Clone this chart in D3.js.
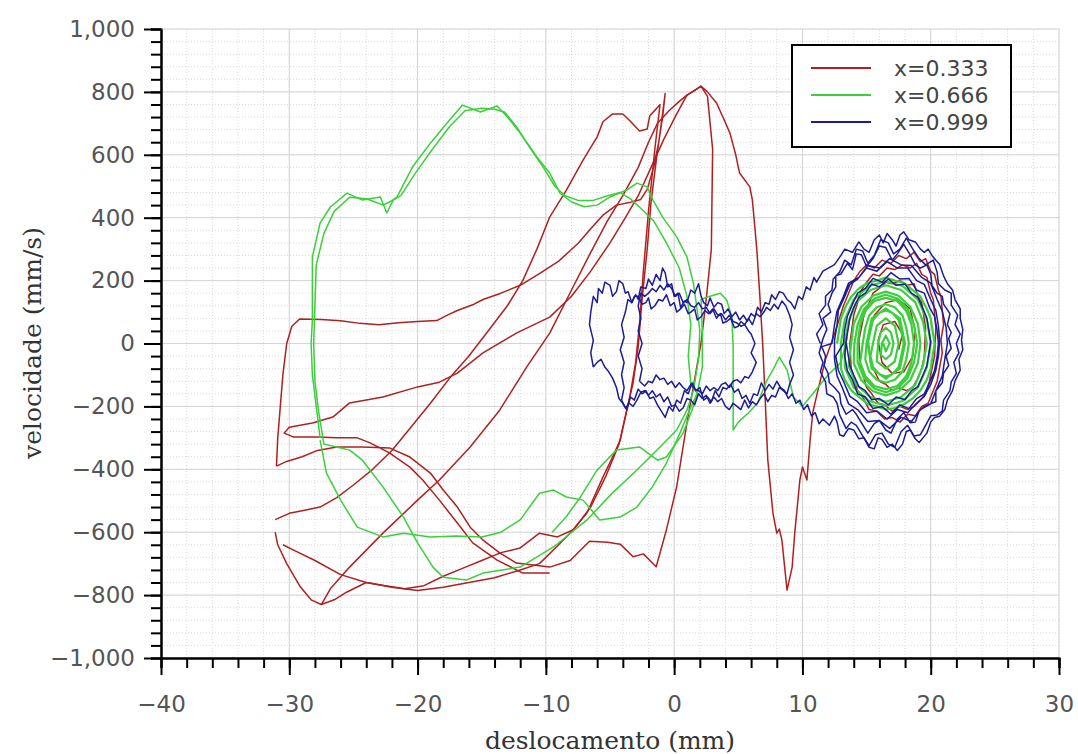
<!DOCTYPE html>
<html>
<head>
<meta charset="utf-8">
<script src="https://d3js.org/d3.v7.min.js"></script>
<style>
  body { margin: 0; background: #fff; }
</style>
</head>
<body>
<div id="chart"></div>
<script>
// axis ticks and legend
var xTicks = [-40, -30, -20, -10, 0, 10, 20, 30];
var yTicks = [-1000, -800, -600, -400, -200, 0, 200, 400, 600, 800, 1000];
var seriesNames = ["x=0.333", "x=0.666", "x=0.999"];
var seriesColors = ["#b02020", "#3ccf3c", "#1c1c96"];

// ---- x=0.333 (red), [deslocamento mm, velocidade mm/s] ----
var redA = [[-31.0,-390],[-30.9,-300],[-30.7,-200],[-30.5,-100],[-30.2,0],[-29.8,55],[-29.2,78],[-27.5,76],[-26,72],[-24.5,64],[-23,60],[-21.5,66],[-20,70],[-18.5,73],[-17.8,88],[-16.9,105],[-15.6,125],[-14.9,140],[-13.5,160],[-12,185],[-10.5,222],[-9,262],[-7.5,318],[-6.5,365],[-5.5,410],[-4.5,440],[-3.5,448],[-2.6,458],[-2.1,490],[-1.6,560],[-1.2,640],[-0.9,720],[-0.7,795],[-1.0,700],[-1.4,580],[-1.8,450],[-2.1,300],[-2.5,140],[-2.8,-11],[-3.2,-126],[-3.7,-212],[-4.2,-307],[-4.8,-361],[-5.55,-425],[-6.8,-539],[-7.9,-593],[-9.1,-615],[-10.5,-603],[-12,-650],[-13.5,-665],[-15,-690],[-16.5,-715],[-18,-740],[-19.5,-770],[-21,-780],[-22.5,-770],[-24,-760],[-25.5,-790],[-26.5,-815],[-27.5,-830],[-28.3,-815],[-29.2,-770],[-30.2,-700],[-30.9,-640],[-31.1,-600]];
var redB = [[-9.7,-730],[-11.8,-730],[-13.8,-689],[-15.7,-634],[-16.9,-571],[-18.3,-498],[-19.6,-434],[-20.6,-393],[-22.2,-348],[-23.7,-316],[-24.7,-300],[-26.3,-300],[-27.8,-297],[-29.7,-297],[-30.4,-285],[-30.0,-266],[-28.2,-253],[-26.6,-234],[-25.3,-189],[-22.7,-170],[-20,-138],[-18.3,-123],[-16.9,-94],[-14.9,-30],[-12.3,33],[-9.7,84],[-8,150],[-6.5,230],[-5,320],[-3.8,400],[-2.8,470],[-1.8,560],[-0.8,650],[0.2,730],[1.0,790],[1.6,805],[2.1,818],[2.6,786],[3.0,618],[2.9,300],[2.5,140],[2.1,3],[0.95,-264],[0.2,-455],[-0.6,-592],[-1.4,-710],[-2.4,-669],[-3.2,-678],[-4.2,-638],[-5.2,-632],[-6.6,-629],[-8.1,-690],[-9.7,-711],[-12.3,-698],[-13.6,-666],[-14.9,-625],[-15.9,-584],[-16.9,-520],[-18,-466],[-19,-412],[-20.6,-361],[-22.2,-332],[-24.3,-329],[-26.3,-329],[-27.8,-340],[-29.0,-360],[-30.2,-375],[-31.0,-390]];
var redC = [[-27.5,-830],[-26.8,-780],[-25.3,-711],[-22.7,-603],[-20,-498],[-18.3,-434],[-15.9,-329],[-13.6,-212],[-11.5,-75],[-9.7,33],[-8,170],[-6.5,290],[-5.2,390],[-4,470],[-2.8,560],[-2,640],[-1.3,700],[-0.4,740],[0.4,770],[1.0,790],[1.6,805],[2.1,818],[2.6,800],[3.3,765],[3.8,720],[4.35,669],[4.8,600],[5.1,542],[5.9,498],[6.1,456],[6.45,297],[6.7,138],[6.9,0],[7.1,-180],[7.3,-370],[7.7,-539],[8.0,-603],[8.2,-590],[8.4,-625],[8.8,-784],[9.2,-711],[9.4,-603],[9.8,-434],[10.0,-393],[10.35,-434],[10.6,-307],[10.8,-221],[11.2,-150],[11.8,-50],[12.5,30]];
var redD = [[-31.1,-560],[-30.0,-540],[-28.8,-530],[-27.6,-520],[-26.3,-490],[-25,-450],[-23.5,-400],[-22,-340],[-20.6,-270],[-19,-190],[-17.5,-110],[-16,-40],[-14.5,40],[-13,120],[-11.8,200],[-10.7,300],[-9.7,402],[-8.4,488],[-7.1,583],[-6.0,657],[-5.55,705],[-4.8,730],[-4.0,730],[-3.45,708],[-2.7,676],[-2.1,682],[-1.9,724],[-1.4,746],[-1.1,760],[-1.5,620],[-2.0,420],[-2.4,230],[-2.7,60],[-3.0,-60],[-3.5,-180],[-4.3,-320],[-5.3,-420],[-6.5,-520],[-7.8,-590],[-9,-640],[-10.5,-700],[-12,-720],[-14,-745],[-16,-760],[-18,-775],[-20,-785],[-22,-775],[-24,-760],[-26,-735],[-28,-690],[-29.5,-660],[-30.5,-640]];
var redCluster = [[12.5,30],[13.2,120],[13.6,160],[14.0,200],[14.5,230],[15.0,250],[15.6,240],[16.2,265],[16.9,255],[17.5,280],[18.1,270],[18.7,290],[19.2,260],[19.6,270],[20.0,230],[20.3,220],[20.6,170],[20.8,150],[21.0,60],[20.8,10],[20.9,-30],[20.5,-120],[20.2,-150],[19.8,-190],[19.3,-200],[18.8,-230],[18.2,-225],[17.6,-250],[17.0,-235],[16.4,-240],[15.8,-215],[15.2,-210],[14.7,-170],[14.3,-150],[13.8,-80],[13.7,0],[14.0,90],[14.6,170],[15.0,195],[15.5,220],[16.0,215],[16.6,240],[17.2,235],[17.8,250],[18.4,240],[18.9,255],[19.3,220],[19.7,210],[20.0,160],[20.2,140],[20.4,50],[20.3,-40],[20.1,-80],[19.9,-120],[19.6,-160],[19.2,-180],[18.7,-200],[18.2,-210],[17.6,-200],[17.0,-215],[16.4,-195],[15.9,-190],[15.4,-160],[15.0,-140],[14.5,-70],[14.4,10],[14.8,90],[15.5,160],[16.0,175],[16.5,195],[17.0,190],[17.6,200],[18.2,185],[18.7,190],[19.0,150],[19.3,130],[19.6,50],[19.5,-40],[19.3,-80],[19.0,-110],[18.6,-140],[18.1,-150],[17.5,-140],[17.0,-150],[16.5,-130],[16.0,-120],[15.3,-60],[15.1,20],[15.6,90],[16.5,130],[17.5,140],[18.4,110],[18.8,40],[18.6,-40],[17.9,-90],[17.0,-95],[16.2,-60],[15.9,10],[16.3,60],[17.2,70],[17.8,30],[17.5,-20]];

// ---- x=0.666 (green) ----
var greenA = [[-27.6,-300],[-27.9,-200],[-28.2,-100],[-28.3,0],[-28.2,75],[-28.2,180],[-28.2,275],[-27.6,383],[-26.8,434],[-25.5,478],[-24.3,456],[-22.9,466],[-22.4,415],[-21.9,456],[-21.6,466],[-20.4,561],[-19.0,637],[-17.7,701],[-16.5,758],[-15.1,736],[-13.8,755],[-13.0,720],[-12.0,669],[-10.7,593],[-9.7,542],[-8.9,478],[-8.0,450],[-7.0,435],[-6.0,440],[-5,466],[-3.7,488],[-2.9,510],[-2.1,498],[-1.65,456],[-0.9,402],[0.2,339],[1,275],[1.5,192],[1.8,106],[2,42],[1.9,-50],[1.5,-150],[1.0,-212],[0.2,-275],[-1.1,-329],[-2.9,-402],[-4.8,-475],[-6.8,-561],[-9.4,-647],[-12,-711],[-14.9,-730],[-16.2,-752],[-18,-743],[-18.8,-711],[-20,-634],[-21.1,-552],[-22.7,-456],[-24.3,-371],[-25.3,-339],[-26.3,-329],[-27.3,-320]];
var greenB = [[-27.3,-320],[-27.7,-220],[-28.0,-120],[-28.1,0],[-28.0,120],[-27.9,250],[-27.3,350],[-26.5,420],[-25.3,465],[-24.0,460],[-23.3,450],[-22.7,440],[-22.2,450],[-21.3,470],[-20.2,540],[-18.8,620],[-17.5,690],[-16.3,740],[-15.0,748],[-14.0,745],[-13.2,735],[-12.3,690],[-11.2,620],[-10.2,560],[-9.3,500],[-8.5,470],[-7.5,455],[-6.3,455],[-5.2,470],[-4.2,480],[-3.4,460],[-2.6,430],[-1.6,390],[-0.6,320],[0.4,240],[1.0,150],[1.3,60],[1.1,-40],[1.3,-130],[1.8,-158],[1.2,-212],[0.45,-285],[-0.6,-380],[-1.7,-456],[-2.9,-520],[-4.2,-552],[-5.8,-561],[-7.1,-498],[-8.4,-488],[-9.4,-466],[-10.5,-476],[-12,-561],[-13.5,-600],[-15,-615],[-17,-612],[-19,-615],[-21.1,-603],[-22.7,-615],[-24.7,-584],[-26,-498],[-27.1,-412],[-27.6,-307]];
var greenC = [[-9.5,-600],[-8.4,-550],[-7.3,-488],[-6,-402],[-4.5,-339],[-2.7,-329],[-1.3,-371],[-0.6,-361],[0.7,-285],[1.5,-200],[1.8,-158],[2.2,-75],[2.2,33],[2.1,140],[2.6,148],[3.6,160],[4.1,138],[4.5,84],[4.6,-11],[4.6,-150],[4.6,-275],[5.0,-250],[5.8,-220],[6.5,-190],[7.2,-120],[7.7,-84],[8.2,-43],[8.8,-84],[9.3,-170],[10,-200],[11,-150],[12,-100],[13,-60],[13.5,20]];
var greenCluster = [[12.7,0],[13.0,80],[13.4,120],[13.8,149],[14.4,175],[15.1,193],[15.8,200],[16.5,210],[17.2,200],[17.9,193],[18.6,170],[19.2,149],[19.7,110],[20.0,80],[20.3,0],[20.0,-80],[19.7,-115],[19.2,-149],[18.6,-175],[17.9,-193],[17.2,-205],[16.5,-210],[15.8,-200],[15.1,-193],[14.4,-170],[13.8,-149],[13.3,-115],[13.0,-80],[13.0,0],[13.3,76],[14.0,140],[15.2,183],[16.5,198],[17.8,183],[19.0,140],[19.7,76],[20.0,0],[19.7,-76],[19.0,-140],[17.8,-183],[16.5,-198],[15.2,-183],[14.0,-140],[13.3,-76],[13.3,0],[13.6,70],[14.2,131],[15.3,170],[16.5,185],[17.7,170],[18.8,131],[19.4,70],[19.7,0],[19.4,-70],[18.8,-131],[17.7,-170],[16.5,-185],[15.3,-170],[14.2,-131],[13.6,-70],[13.8,0],[14.0,63],[14.6,117],[15.5,152],[16.5,165],[17.5,152],[18.4,117],[19.0,63],[19.2,0],[19.0,-63],[18.4,-117],[17.5,-152],[16.5,-165],[15.5,-152],[14.6,-117],[14.0,-63],[14.05,0],[14.3,60],[14.8,110],[15.6,143],[16.5,155],[17.4,143],[18.2,110],[18.7,60],[18.95,0],[18.7,-60],[18.2,-110],[17.4,-143],[16.5,-155],[15.6,-143],[14.8,-110],[14.3,-60],[14.3,0],[14.5,60],[14.9,103],[15.6,135],[16.5,145],[17.4,135],[18.1,103],[18.5,60],[18.7,0],[18.5,-60],[18.1,-103],[17.4,-135],[16.5,-145],[15.6,-135],[14.9,-103],[14.5,-60],[14.7,0],[14.9,50],[15.2,89],[15.8,115],[16.5,125],[17.2,115],[17.8,89],[18.1,50],[18.3,0],[18.1,-50],[17.8,-89],[17.2,-115],[16.5,-125],[15.8,-115],[15.2,-89],[14.9,-50],[15.0,0],[15.4,80],[16.5,112],[17.6,80],[18.0,0],[17.6,-80],[16.5,-112],[15.4,-80],[15.1,0],[15.3,40],[15.5,75],[16.0,98],[16.5,105],[17.0,98],[17.5,75],[17.7,40],[17.9,0],[17.7,-40],[17.5,-75],[17.0,-98],[16.5,-105],[16.0,-98],[15.5,-75],[15.3,-40],[15.5,0],[15.8,57],[16.5,80],[17.2,57],[17.5,0],[17.2,-57],[16.5,-80],[15.8,-57],[15.9,0],[16.1,35],[16.5,50],[16.9,35],[17.1,0],[16.9,-35],[16.5,-50],[16.1,-35],[16.2,0],[16.5,25],[16.8,0],[16.5,-25],[16.3,0]];

// ---- x=0.999 (blue) ----
var blueOuter = [[-6.3,-75],[-6.5,-30],[-6.3,10],[-6.6,60],[-6.5,100],[-6.3,150],[-6.0,130],[-5.9,175],[-5.6,160],[-5.4,195],[-5.0,185],[-4.8,150],[-4.5,165],[-4.3,200],[-4.0,190],[-3.8,160],[-3.6,165],[-3.3,130],[-3.0,155],[-2.8,140],[-2.6,180],[-2.2,175],[-2.0,205],[-1.7,185],[-1.4,220],[-1.1,200],[-0.9,240],[-0.7,225],[-0.5,180],[-0.2,190],[0.0,150],[0.3,160],[0.5,115],[0.8,135],[1.0,130],[1.3,170],[1.6,160],[1.9,190],[2.1,150],[2.3,130],[2.6,120],[2.8,145],[3.1,115],[3.4,130],[3.7,125],[3.9,95],[4.2,110],[4.5,85],[4.8,100],[5.1,75],[5.4,90],[5.7,70],[6.0,95],[6.3,85],[6.5,115],[6.8,100],[7.1,130],[7.4,125],[7.6,155],[7.9,140],[8.2,165],[8.5,160],[8.8,140],[9.1,130],[9.4,110],[9.7,150],[10.0,140],[10.3,180],[10.6,170],[10.9,210],[11.1,195],[11.6,230],[12.5,251],[13.0,280],[13.3,300],[13.9,290],[14.4,323],[14.8,300],[15.2,290],[15.6,330],[16.0,345],[16.3,320],[16.6,350],[17.0,330],[17.3,310],[17.6,345],[17.9,355],[18.3,330],[18.8,323],[19.2,300],[19.5,290],[19.8,300],[20.1,280],[20.4,265],[20.7,251],[21.0,215],[21.3,190],[21.7,170],[21.9,139],[22.3,110],[22.3,80],[22.5,45],[22.4,10],[22.5,-20],[22.2,-50],[22.3,-85],[21.9,-119],[21.7,-150],[21.3,-180],[21.1,-210],[20.7,-231],[20.3,-235],[20.0,-250],[19.7,-285],[19.4,-300],[19.1,-315],[18.8,-303],[18.4,-275],[18.1,-280],[17.8,-320],[17.4,-340],[17.0,-320],[16.6,-330],[16.2,-305],[15.9,-300],[15.6,-335],[15.2,-330],[14.8,-300],[14.4,-303],[14.0,-275],[13.6,-270],[13.2,-295],[12.9,-290],[12.7,-250],[12.5,-231],[12.1,-260],[11.6,-240],[11.3,-255],[11.0,-220],[10.7,-230],[10.4,-195],[10.1,-210],[9.8,-180],[9.5,-190],[9.2,-160],[8.9,-175],[8.6,-150],[8.3,-140],[8.0,-120],[7.7,-145],[7.4,-130],[7.1,-150],[6.8,-125],[6.5,-165],[6.2,-160],[5.9,-190],[5.6,-165],[5.3,-175],[5.0,-145],[4.7,-155],[4.4,-130],[4.1,-145],[3.8,-140],[3.5,-170],[3.2,-150],[2.9,-185],[2.6,-170],[2.3,-180],[2.0,-140],[1.7,-150],[1.4,-125],[1.1,-160],[0.8,-150],[0.5,-190],[0.2,-180],[-0.1,-215],[-0.4,-200],[-0.7,-235],[-1.0,-215],[-1.3,-195],[-1.6,-170],[-1.9,-175],[-2.2,-150],[-2.5,-160],[-2.8,-145],[-3.1,-180],[-3.4,-170],[-3.7,-210],[-4.0,-190],[-4.3,-175],[-4.5,-140],[-4.8,-110],[-5.1,-90],[-5.4,-75],[-5.7,-50],[-6.0,-60],[-6.3,-75]];
var blueInner1 = [[-4.1,-180],[-3.9,-140],[-4.1,-100],[-3.9,-60],[-4.2,-20],[-3.9,20],[-4.1,60],[-3.8,100],[-3.6,140],[-3.3,130],[-3.1,150],[-2.8,150],[-2.5,125],[-2.2,130],[-2.0,145],[-1.8,110],[-1.5,120],[-1.2,140],[-0.9,135],[-0.6,155],[-0.3,120],[0.0,130],[0.2,100],[0.5,110],[0.8,125],[1.1,95],[1.3,100],[1.6,110],[1.8,75],[2.1,85],[2.4,105],[2.7,95],[3.0,110],[3.3,80],[3.6,95],[3.8,65],[4.1,70],[4.4,80],[4.7,50],[5.0,55],[5.2,70],[5.5,60],[5.8,80],[6.1,60],[6.4,95],[6.7,85],[7.0,100],[7.2,115],[7.5,105],[7.8,125],[8.1,110],[8.4,135],[8.7,120],[9.0,90],[9.2,60],[9.0,20],[9.3,-20],[9.0,-60],[9.3,-100],[9.0,-130],[8.8,-160],[8.5,-150],[8.2,-140],[7.9,-170],[7.6,-165],[7.3,-185],[7.0,-160],[6.7,-175],[6.4,-195],[6.1,-185],[5.8,-205],[5.5,-180],[5.2,-210],[4.9,-200],[4.6,-190],[4.3,-210],[4.0,-200],[3.7,-175],[3.4,-185],[3.1,-170],[2.8,-190],[2.5,-165],[2.2,-175],[1.9,-160],[1.6,-195],[1.3,-180],[1.0,-175],[0.7,-205],[0.4,-215],[0.1,-195],[-0.2,-200],[-0.5,-170],[-0.8,-185],[-1.1,-160],[-1.4,-170],[-1.7,-150],[-2.0,-165],[-2.3,-150],[-2.6,-155],[-2.9,-180],[-3.2,-200],[-3.5,-190],[-3.8,-205],[-4.1,-180]];
var blueInner2 = [[-2.7,-120],[-2.5,-80],[-2.8,-40],[-2.5,0],[-2.8,40],[-2.6,80],[-2.8,120],[-2.6,160],[-2.3,150],[-2.0,160],[-1.7,175],[-1.4,165],[-1.1,185],[-0.8,170],[-0.5,190],[-0.2,175],[0.1,150],[0.4,160],[0.7,130],[1.0,140],[1.3,120],[1.6,115],[1.9,130],[2.2,110],[2.5,115],[2.8,95],[3.1,110],[3.4,90],[3.7,95],[4.0,75],[4.3,90],[4.6,70],[4.9,65],[5.2,55],[5.5,60],[5.8,40],[6.0,30],[6.3,0],[6.0,-30],[6.4,-60],[6.1,-90],[5.8,-110],[5.5,-105],[5.2,-125],[4.9,-115],[4.6,-120],[4.3,-140],[4.0,-125],[3.7,-130],[3.4,-150],[3.1,-140],[2.8,-150],[2.5,-135],[2.2,-160],[1.9,-150],[1.6,-145],[1.3,-130],[1.0,-150],[0.7,-140],[0.4,-125],[0.1,-140],[-0.2,-120],[-0.5,-130],[-0.8,-110],[-1.1,-115],[-1.4,-100],[-1.7,-125],[-2.0,-120],[-2.3,-135],[-2.7,-120]];
var blueCluster = [[11.4,0],[11.1,30],[11.6,60],[11.3,95],[11.8,122],[11.8,150],[12.3,170],[12.4,205],[12.9,227],[13.3,265],[13.8,250],[14.2,300],[14.7,294],[15.1,255],[15.6,280],[16.1,330],[16.7,320],[17.1,285],[17.6,300],[18.1,335],[18.7,294],[19.1,270],[19.6,250],[20.2,265],[20.5,227],[20.6,190],[21.1,170],[21.6,160],[21.6,122],[22.1,90],[21.9,60],[22.3,30],[22.0,0],[22.2,-30],[21.8,-60],[22.0,-95],[21.6,-122],[21.5,-150],[21.0,-180],[20.9,-215],[20.5,-227],[20.0,-230],[19.6,-260],[19.2,-290],[18.7,-294],[18.2,-260],[17.7,-280],[17.2,-330],[16.7,-320],[16.2,-285],[15.7,-290],[15.2,-325],[14.7,-294],[14.2,-260],[13.8,-250],[13.4,-270],[12.9,-227],[12.7,-190],[12.4,-170],[11.9,-160],[11.8,-122],[11.4,-90],[11.6,-60],[11.3,-30],[11.6,15],[11.9,45],[11.6,80],[12.2,100],[12.0,125],[12.3,160],[12.6,180],[12.6,215],[13.0,221],[13.5,255],[13.9,235],[14.2,285],[14.6,282],[15.0,245],[15.5,270],[16.0,310],[16.5,305],[17.0,265],[17.4,285],[17.9,315],[18.4,282],[18.8,250],[19.2,240],[19.7,250],[20.0,221],[20.1,185],[20.5,160],[20.9,150],[21.0,125],[21.5,95],[21.3,60],[21.6,35],[21.4,15],[21.6,-15],[21.2,-40],[21.4,-70],[21.0,-95],[20.9,-125],[20.4,-150],[20.4,-185],[20.0,-191],[19.5,-200],[19.1,-215],[18.8,-250],[18.4,-252],[17.9,-220],[17.4,-240],[16.9,-285],[16.5,-275],[16.0,-245],[15.6,-255],[15.1,-285],[14.6,-252],[14.2,-225],[13.9,-210],[13.4,-225],[13.0,-191],[12.9,-160],[12.5,-140],[12.1,-125],[12.0,-95],[11.7,-70],[11.8,-40],[11.5,-10],[12.3,0],[12.5,60],[12.7,103],[13.2,150],[13.6,192],[14.4,210],[15.1,248],[16.0,240],[16.8,270],[17.7,250],[18.5,248],[19.3,210],[20.0,192],[20.5,140],[20.9,103],[21.2,50],[21.3,0],[21.1,-50],[20.9,-103],[20.4,-150],[20.0,-192],[19.2,-210],[18.5,-248],[17.7,-235],[16.8,-270],[16.0,-245],[15.1,-248],[14.3,-210],[13.6,-192],[13.1,-140],[12.7,-103],[12.5,-50],[12.5,10],[12.7,60],[12.8,105],[13.3,150],[13.7,188],[14.3,205],[15.0,240],[15.8,230],[16.6,260],[17.4,240],[18.2,240],[18.9,200],[19.5,188],[20.0,140],[20.4,105],[20.6,55],[20.7,10],[20.6,-40],[20.4,-85],[20.0,-130],[19.5,-168],[18.9,-190],[18.2,-220],[17.4,-210],[16.6,-240],[15.8,-215],[15.0,-220],[14.3,-185],[13.7,-168],[13.2,-120],[12.8,-85],[12.6,-40],[13.2,0],[13.3,45],[13.5,86],[13.9,125],[14.3,160],[14.9,175],[15.5,207],[16.2,195],[16.9,225],[17.6,205],[18.3,207],[18.9,170],[19.5,160],[19.9,115],[20.3,86],[20.5,40],[20.6,0],[20.5,-40],[20.3,-86],[19.9,-125],[19.5,-160],[18.9,-175],[18.3,-207],[17.6,-195],[16.9,-225],[16.2,-200],[15.5,-207],[14.9,-170],[14.3,-160],[13.9,-115],[13.5,-86],[13.3,-40],[13.4,5],[13.7,81],[14.0,115],[14.4,147],[14.9,160],[15.4,189],[16.0,180],[16.7,205],[17.3,185],[18.0,189],[18.5,160],[19.0,147],[19.4,110],[19.7,81],[20.0,5],[19.7,-71],[19.4,-100],[19.0,-137],[18.5,-150],[18.0,-179],[17.3,-170],[16.7,-195],[16.0,-175],[15.4,-179],[14.9,-150],[14.4,-137],[14.0,-100],[13.7,-71],[13.4,5]];

var series = [
  {name: seriesNames[0], color: seriesColors[0], paths: [redA, redB, redC, redD, redCluster]},
  {name: seriesNames[1], color: seriesColors[1], paths: [greenA, greenB, greenC, greenCluster]},
  {name: seriesNames[2], color: seriesColors[2], paths: [blueOuter, blueInner1, blueInner2, blueCluster]}
];

var width = 1078, height = 754;
var svg = d3.select("#chart").append("svg")
  .attr("width", width)
  .attr("height", height);

var x = d3.scaleLinear().domain([-40, 30]).range([161, 1059]);
var y = d3.scaleLinear().domain([-1000, 1000]).range([658, 29]);

var xMinor = d3.range(-40, 30.001, 2);
var yMinor = d3.range(-1000, 1000.001, 40);

// minor grid (dotted)
var grid = svg.append("g");
grid.selectAll(".vx").data(xMinor).enter().append("line")
  .attr("x1", function(d) { return x(d); }).attr("x2", function(d) { return x(d); })
  .attr("y1", y(-1000)).attr("y2", y(1000))
  .attr("stroke", "#dadada").attr("stroke-dasharray", "1,2");
grid.selectAll(".hy").data(yMinor).enter().append("line")
  .attr("x1", x(-40)).attr("x2", x(30))
  .attr("y1", function(d) { return y(d); }).attr("y2", function(d) { return y(d); })
  .attr("stroke", "#dadada").attr("stroke-dasharray", "1,2");

// major grid
grid.selectAll(".mx").data(xTicks).enter().append("line")
  .attr("x1", function(d) { return x(d); }).attr("x2", function(d) { return x(d); })
  .attr("y1", y(-1000)).attr("y2", y(1000))
  .attr("stroke", "#d4d4d4");
grid.selectAll(".my").data(yTicks).enter().append("line")
  .attr("x1", x(-40)).attr("x2", x(30))
  .attr("y1", function(d) { return y(d); }).attr("y2", function(d) { return y(d); })
  .attr("stroke", "#d4d4d4");

// data lines
var line = d3.line()
  .x(function(d) { return x(d[0]); })
  .y(function(d) { return y(d[1]); });

series.forEach(function(s) {
  svg.append("g").selectAll("path")
    .data(s.paths)
    .enter().append("path")
    .attr("d", line)
    .attr("fill", "none")
    .attr("stroke", s.color)
    .attr("stroke-width", function(d) { return d === greenCluster ? 2.2 : 1.5; })
    .attr("stroke-linejoin", "round");
});

// axes: minor ticks first, then major ones with labels
svg.append("g")
  .attr("transform", "translate(0," + y(-1000) + ")")
  .call(d3.axisBottom(x).tickValues(xMinor).tickSize(10).tickFormat(""));
svg.append("g")
  .attr("transform", "translate(" + x(-40) + ",0)")
  .call(d3.axisLeft(y).tickValues(yMinor).tickSize(10).tickFormat(""));

svg.append("g")
  .attr("transform", "translate(0," + y(-1000) + ")")
  .call(d3.axisBottom(x).tickValues(xTicks).tickSize(17).tickSizeOuter(0).tickPadding(21).tickFormat(d3.format(",")));
svg.append("g")
  .attr("transform", "translate(" + x(-40) + ",0)")
  .call(d3.axisLeft(y).tickValues(yTicks).tickSize(17).tickSizeOuter(0).tickPadding(9).tickFormat(d3.format(",")));

svg.selectAll(".domain").attr("stroke", "#000").attr("stroke-width", 2);
svg.selectAll(".tick line").attr("stroke", "#000").attr("stroke-width", 2);
svg.selectAll(".tick text")
  .attr("font-family", "'DejaVu Sans', Verdana, sans-serif")
  .attr("font-size", "23px")
  .attr("fill", "#555");

// axis titles
svg.append("text")
  .attr("x", 610).attr("y", 749)
  .attr("text-anchor", "middle")
  .attr("font-family", "'DejaVu Serif', serif")
  .attr("font-size", "25px")
  .attr("fill", "#333")
  .text("deslocamento (mm)");

svg.append("text")
  .attr("transform", "translate(41," + 343 + ") rotate(-90)")
  .attr("text-anchor", "middle")
  .attr("font-family", "'DejaVu Serif', serif")
  .attr("font-size", "25px")
  .attr("fill", "#333")
  .text("velocidade (mm/s)");

// legend
var legend = svg.append("g");
legend.append("rect")
  .attr("x", 792).attr("y", 45)
  .attr("width", 219).attr("height", 102)
  .attr("fill", "#fff")
  .attr("stroke", "#000")
  .attr("stroke-width", 2);

series.forEach(function(s, i) {
  var ly = 68 + i * 27;
  legend.append("line")
    .attr("x1", 811).attr("x2", 871)
    .attr("y1", ly).attr("y2", ly)
    .attr("stroke", s.color).attr("stroke-width", 2);
  legend.append("text")
    .attr("x", 894).attr("y", ly + 8)
    .attr("font-family", "'DejaVu Sans', Verdana, sans-serif")
    .attr("font-size", "22px")
    .attr("fill", "#444")
    .text(s.name);
});
</script>
</body>
</html>
